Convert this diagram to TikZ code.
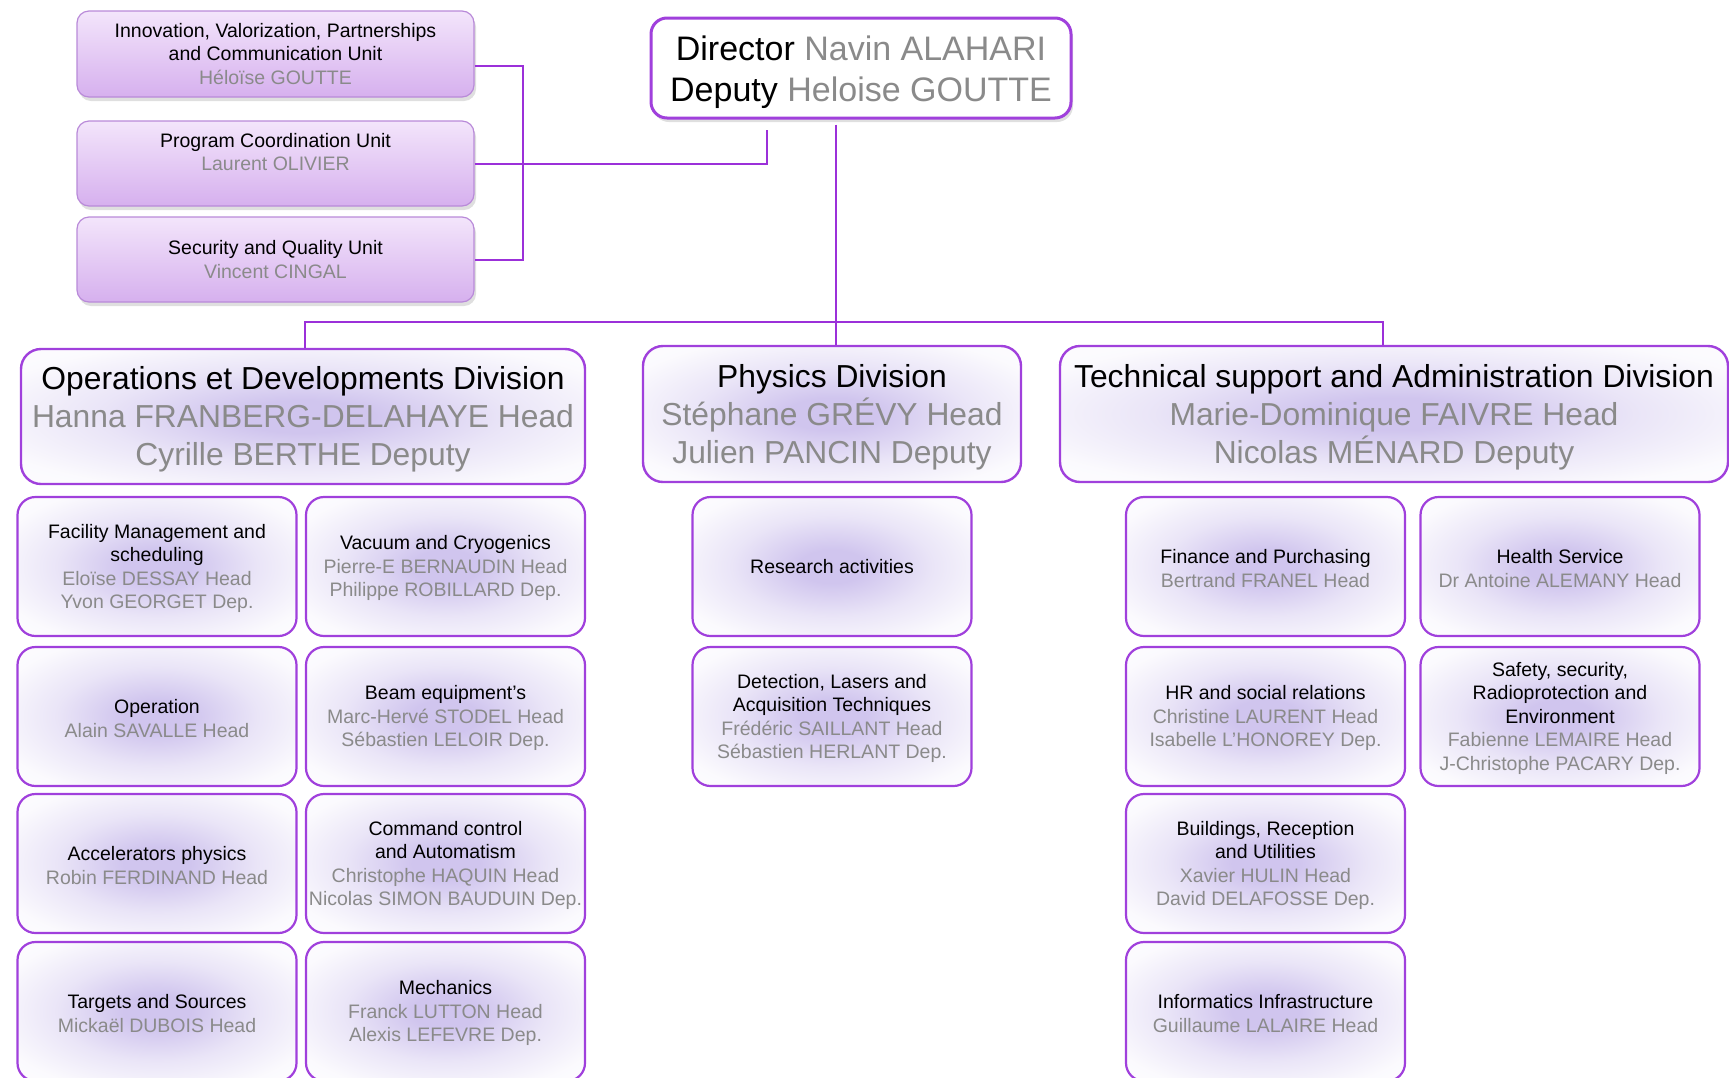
\documentclass[tikz,border=0pt]{standalone}
\usepackage{fontspec}
\setmainfont{Liberation Sans}
\usetikzlibrary{shadows}

\definecolor{linkc}{HTML}{9B30D9}
\definecolor{edgec}{HTML}{A040DC}
\definecolor{glowc}{HTML}{D0C5EE}
\definecolor{namec}{HTML}{8A8A8A}
\definecolor{stafftop}{HTML}{F3E5FB}
\definecolor{staffbot}{HTML}{D6B0EE}
\definecolor{staffedge}{HTML}{B98AD9}

% soft lavender glow in the middle of the boxes
\pgfdeclareradialshading{softglow}{\pgfpoint{0bp}{0bp}}{%
  color(0bp)=(glowc); color(6bp)=(glowc); color(18bp)=(glowc!45!white);
  color(30bp)=(glowc!8!white); color(50bp)=(white)}

\newcommand{\nm}[1]{{\color{namec}#1}}
% invisible strut that lowers a text block a little inside its box
\newcommand{\lift}[1]{\rule{0pt}{#1}}

\tikzset{
  link/.style={draw=linkc, line width=2pt},
  staffbox/.style={rounded corners=12pt, draw=staffedge, line width=1.2pt,
    top color=stafftop, bottom color=staffbot,
    drop shadow={shadow xshift=2pt, shadow yshift=-4pt, opacity=0.25},
    minimum width=397pt, align=center, inner sep=2pt,
    font=\fontsize{19.5}{23.5}\selectfont},
  dirbox/.style={rounded corners=16pt, draw=edgec, line width=3pt, fill=white,
    drop shadow={shadow xshift=2pt, shadow yshift=-4pt, opacity=0.25},
    minimum width=420pt, minimum height=100pt, align=center,
    font=\fontsize{34}{41}\selectfont},
  divbox/.style={rounded corners=20pt, draw=edgec, line width=2.4pt,
    shade, shading=softglow, align=center, inner sep=1pt,
    font=\fontsize{31.8}{38}\selectfont},
  unitbox/.style={rounded corners=18pt, draw=edgec, line width=2.2pt,
    shade, shading=softglow, minimum width=279pt, minimum height=139pt,
    align=center, inner sep=1pt,
    font=\fontsize{19.5}{23.5}\selectfont},
}

\begin{document}
\begin{tikzpicture}[x=1pt, y=-1pt]
\useasboundingbox (0,0) rectangle (1729,1077);
\clip (0,0) rectangle (1729,1077);

% staff units
\node[staffbox, minimum height=86pt] (innov) at (275.5,54)
  {Innovation, Valorization, Partnerships\\and Communication Unit\\\nm{Héloïse GOUTTE}};
\node[staffbox, minimum height=85pt] (prog) at (275.5,163.5)
  {Program Coordination Unit\\\nm{Laurent OLIVIER}\\\mbox{}};
\node[staffbox, minimum height=85pt] (secu) at (275.5,259.5)
  {Security and Quality Unit\\\nm{Vincent CINGAL}};

% direction
\node[dirbox] (dir) at (861,68)
  {\lift{33pt}Director \nm{Navin ALAHARI}\\Deputy \nm{Heloise GOUTTE}};

% divisions
\node[divbox, minimum width=564pt, minimum height=135pt] (ops) at (303,416.5)
  {\lift{29pt}Operations et Developments Division\\\nm{Hanna FRANBERG-DELAHAYE Head}\\\nm{Cyrille BERTHE Deputy}};
\node[divbox, minimum width=378pt, minimum height=136pt] (phys) at (832,414)
  {\lift{29pt}Physics Division\\\nm{Stéphane GRÉVY Head}\\\nm{Julien PANCIN Deputy}};
\node[divbox, minimum width=668pt, minimum height=136pt] (tech) at (1394,414)
  {\lift{29pt}Technical support and Administration Division\\\nm{Marie-Dominique FAIVRE Head}\\\nm{Nicolas MÉNARD Deputy}};

% operations and developments units
\node[unitbox] (fac) at (157,566.5)
  {\lift{18pt}Facility Management and\\scheduling\\\nm{Eloïse DESSAY Head}\\\nm{Yvon GEORGET Dep.}};
\node[unitbox] (vac) at (445.5,566.5)
  {\lift{18pt}Vacuum and Cryogenics\\\nm{Pierre-E BERNAUDIN Head}\\\nm{Philippe ROBILLARD Dep.}};
\node[unitbox] (oper) at (157,716.5)
  {\lift{18pt}Operation\\\nm{Alain SAVALLE Head}};
\node[unitbox] (beam) at (445.5,716.5)
  {\lift{18pt}Beam equipment's\\\nm{Marc-Hervé STODEL Head}\\\nm{Sébastien LELOIR Dep.}};
\node[unitbox] (acc) at (157,863.5)
  {\lift{18pt}Accelerators physics\\\nm{Robin FERDINAND Head}};
\node[unitbox] (cmd) at (445.5,863.5)
  {\lift{18pt}Command control\\and Automatism\\\nm{Christophe HAQUIN Head}\\\nm{Nicolas SIMON BAUDUIN Dep.}};
\node[unitbox] (targ) at (157,1011.5)
  {\lift{18pt}Targets and Sources\\\nm{Mickaël DUBOIS Head}};
\node[unitbox] (mech) at (445.5,1011.5)
  {\lift{18pt}Mechanics\\\nm{Franck LUTTON Head}\\\nm{Alexis LEFEVRE Dep.}};

% physics units
\node[unitbox] (res) at (832,566.5) {Research activities};
\node[unitbox] (det) at (832,716.5)
  {\lift{18pt}Detection, Lasers and\\Acquisition Techniques\\\nm{Frédéric SAILLANT Head}\\\nm{Sébastien HERLANT Dep.}};

% technical support and administration units
\node[unitbox] (fin) at (1265.5,566.5)
  {\lift{18pt}Finance and Purchasing\\\nm{Bertrand FRANEL Head}};
\node[unitbox] (health) at (1560,566.5)
  {\lift{18pt}Health Service\\\nm{Dr Antoine ALEMANY Head}};
\node[unitbox] (hr) at (1265.5,716.5)
  {\lift{18pt}HR and social relations\\\nm{Christine LAURENT Head}\\\nm{Isabelle L'HONOREY Dep.}};
\node[unitbox] (safe) at (1560,716.5)
  {\lift{18pt}Safety, security,\\Radioprotection and\\Environment\\\nm{Fabienne LEMAIRE Head}\\\nm{J-Christophe PACARY Dep.}};
\node[unitbox] (bld) at (1265.5,863.5)
  {\lift{18pt}Buildings, Reception\\and Utilities\\\nm{Xavier HULIN Head}\\\nm{David DELAFOSSE Dep.}};
\node[unitbox] (info) at (1265.5,1011.5)
  {\lift{18pt}Informatics Infrastructure\\\nm{Guillaume LALAIRE Head}};

% staff connectors
\coordinate (spineTop) at (523,66);
\coordinate (spineBot) at (523,259.5);
\draw[link] ([yshift=-12pt]innov.east) -- (spineTop) -- (spineBot) -- (secu.east);
\coordinate (dirleg) at ([xshift=-94pt,yshift=-10pt]dir.south);
\draw[link] (prog.east) -- (prog.east -| dirleg) -- (dirleg);

% division connectors
\coordinate (trunk) at ([xshift=-25pt,yshift=-5pt]dir.south);
\coordinate (barL) at (305,322);
\coordinate (barR) at (1383,322);
\draw[link] (trunk) -- (trunk |- phys.north);
\draw[link] (ops.north -| barL) -- (barL) -- (barR) -- (tech.north -| barR);
\end{tikzpicture}
\end{document}
